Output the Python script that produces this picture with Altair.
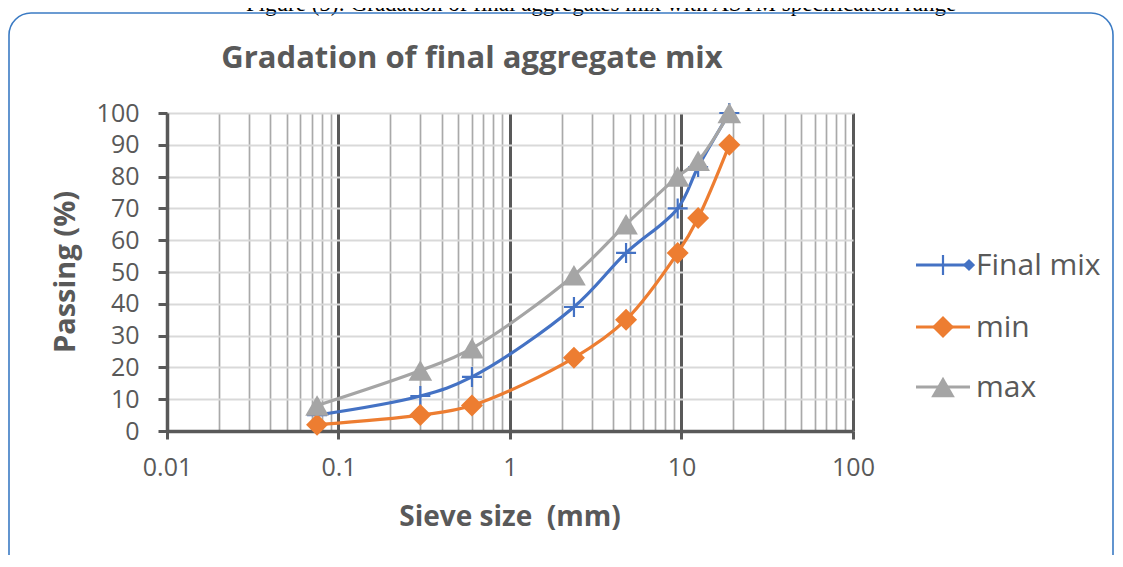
import altair as alt
import pandas as pd

# ---- data ----
SIEVE = [0.075, 0.3, 0.6, 2.36, 4.75, 9.5, 12.5, 19]
FINAL_MIX = [5, 11, 17, 39, 56, 70, 83, 100]
MIN_SPEC = [2, 5, 8, 23, 35, 56, 67, 90]
MAX_SPEC = [8, 19, 26, 49, 65, 80, 85, 100]
SERIES = ["Final mix", "min", "max"]
COLORS = ["#4472C4", "#ED7D31", "#A5A5A5"]
Y_TICKS = [0, 10, 20, 30, 40, 50, 60, 70, 80, 90, 100]
X_TICKS = [0.01, 0.02, 0.03, 0.04, 0.05, 0.06, 0.07, 0.08, 0.09,
           0.1, 0.2, 0.3, 0.4, 0.5, 0.6, 0.7, 0.8, 0.9,
           1, 2, 3, 4, 5, 6, 7, 8, 9,
           10, 20, 30, 40, 50, 60, 70, 80, 90, 100]
CAPTION = "Figure (5): Gradation of final aggregates mix with ASTM specification range"
TITLE = "Gradation of final aggregate mix"
X_TITLE = "Sieve size\u00a0\u00a0(mm)"
Y_TITLE = "Passing (%)"

rows = []
for name, vals in zip(SERIES, [FINAL_MIX, MIN_SPEC, MAX_SPEC]):
    for s, v in zip(SIEVE, vals):
        rows.append({"series": name, "sieve": s, "passing": v})
df = pd.DataFrame(rows)

FONT = "Open Sans"
GREY = "#595959"
W, H = 686, 318
PAD = {"left": 159, "top": 105, "right": 262, "bottom": 124}

DECADE = "abs(log(datum.value)/LN10 - round(log(datum.value)/LN10)) < 0.001"

x_enc = alt.X(
    "sieve:Q",
    scale=alt.Scale(type="log", domain=[0.01, 100], nice=False),
    axis=alt.Axis(
        values=X_TICKS, title=None, labelOverlap=False, labelFlush=False,
        labelExpr=f"{DECADE} ? format(datum.value, '~g') : ''",
        labelFont=FONT, labelFontSize=25, labelColor=GREY, labelPadding=16,
        gridColor={"condition": {"test": DECADE, "value": GREY}, "value": "#a9a9a9"},
        gridWidth={"condition": {"test": DECADE, "value": 3}, "value": 1.7},
        tickOpacity={"condition": {"test": DECADE, "value": 1}, "value": 0},
        tickColor=GREY, tickWidth=3, tickSize=8,
        domainColor=GREY, domainWidth=3.5,
    ),
)
y_enc = alt.Y(
    "passing:Q",
    scale=alt.Scale(domain=[0, 100], nice=False),
    axis=alt.Axis(
        values=Y_TICKS, title=None,
        labelFont=FONT, labelFontSize=25, labelColor=GREY, labelPadding=19,
        gridColor="#d9d9d9", gridWidth=2,
        tickColor=GREY, tickWidth=3, tickSize=9,
        domainColor=GREY, domainWidth=3.5,
    ),
)
color_enc = alt.Color("series:N", scale=alt.Scale(domain=SERIES, range=COLORS), legend=None)

base = alt.Chart(df)
PLUS = "M-1,0L1,0M0,-1L0,1"
marker_specs = {
    "Final mix": dict(shape=PLUS, filled=False, size=400, strokeWidth=2.2),
    "min": dict(shape="diamond", filled=True, size=484),
    "max": dict(shape="triangle-up", filled=True, size=560),
}

layers = []
for name in SERIES:
    sub = base.transform_filter(alt.datum.series == name)
    layers.append(
        sub.mark_line(strokeWidth=3.2, interpolate="catmull-rom").encode(
            x=x_enc, y=y_enc, color=color_enc, order="sieve:Q"
        )
    )
    layers.append(
        sub.mark_point(opacity=1, **marker_specs[name]).encode(
            x=x_enc, y=y_enc, color=color_enc
        )
    )

one = pd.DataFrame({"k": [0]})

texts = []
# caption (cut off at top like the reference)
texts.append(alt.Chart(one).mark_text(
    font="Liberation Serif", fontSize=23, color="#000000", align="center", baseline="alphabetic"
).encode(x=alt.value(434), y=alt.value(-102), text=alt.value(CAPTION)))
# outer rounded border
texts.append(alt.Chart(one).mark_rect(
    fill="transparent", stroke="#3b7bc4", strokeWidth=1.6, cornerRadius=22
).encode(x=alt.value(-158), x2=alt.value(946), y=alt.value(-100), y2=alt.value(560)))
# chart title
texts.append(alt.Chart(one).mark_text(
    font=FONT, fontSize=31, fontWeight="bold", color=GREY, align="center", baseline="alphabetic"
).encode(x=alt.value(305), y=alt.value(-45), text=alt.value(TITLE)))
# axis titles
texts.append(alt.Chart(one).mark_text(
    font=FONT, fontSize=28, fontWeight="bold", color=GREY, align="center", baseline="middle"
).encode(x=alt.value(343), y=alt.value(405), text=alt.value(X_TITLE)))
texts.append(alt.Chart(one).mark_text(
    font=FONT, fontSize=29, fontWeight="bold", color=GREY, align="center", baseline="middle", angle=270
).encode(x=alt.value(-101), y=alt.value(159), text=alt.value(Y_TITLE)))

# legend
LEG_Y = [152, 214, 274]
leg = []
for name, col, ly in zip(SERIES, COLORS, LEG_Y):
    leg.append(alt.Chart(one).mark_rule(color=col, strokeWidth=3.2).encode(
        x=alt.value(749), x2=alt.value(803), y=alt.value(ly)))
    spec = dict(marker_specs[name])
    leg.append(alt.Chart(one).mark_point(color=col, opacity=1, **spec).encode(
        x=alt.value(776), y=alt.value(ly)))
    if name == "Final mix":
        leg.append(alt.Chart(one).mark_point(color=col, opacity=1, shape="diamond", filled=True, size=150).encode(
            x=alt.value(802), y=alt.value(ly)))
    leg.append(alt.Chart(one).mark_text(
        font=FONT, fontSize=30, color=GREY, align="left", baseline="middle"
    ).encode(x=alt.value(809), y=alt.value(ly + 1), text=alt.value(name)))

chart = alt.layer(*layers, *texts, *leg).properties(
    width=W, height=H, padding=PAD, autosize=alt.AutoSizeParams(type="none")
).configure_view(strokeWidth=0).configure(background="white")

chart.save("out.html", embed_options={"renderer": "svg", "actions": False})
